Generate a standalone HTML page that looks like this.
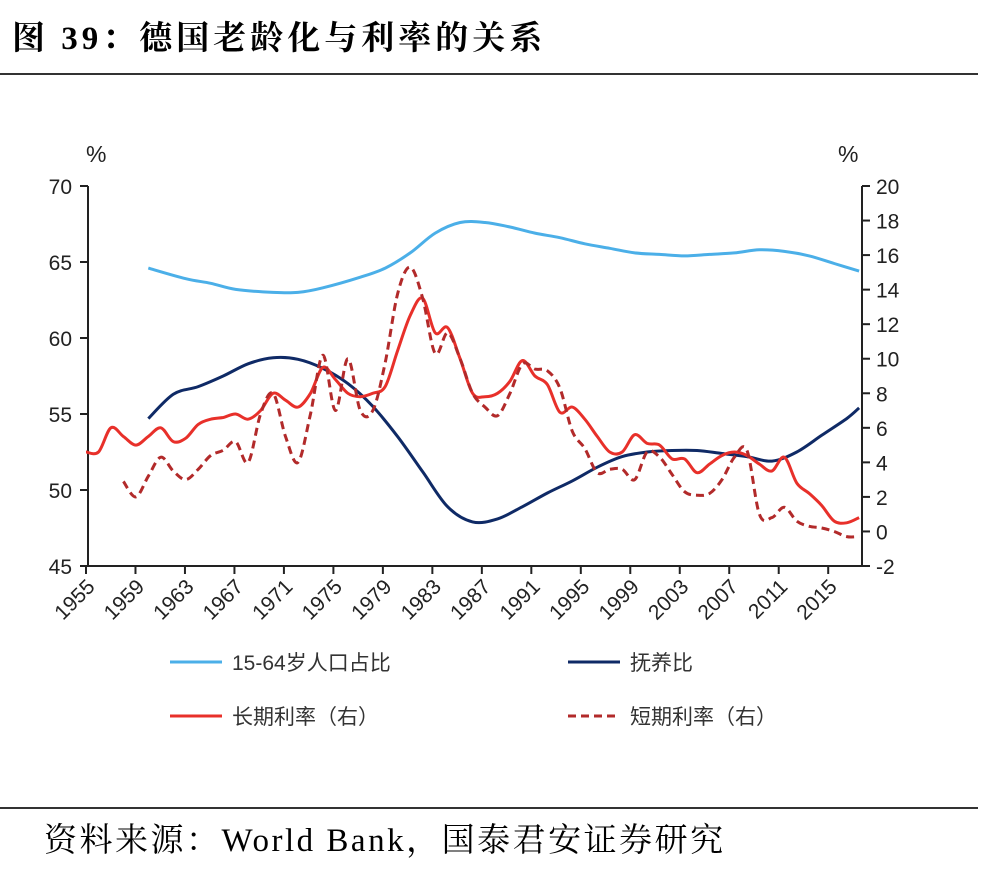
<!DOCTYPE html>
<html><head><meta charset="utf-8">
<style>
html,body{margin:0;padding:0;background:#fff;}
body{width:992px;height:872px;position:relative;overflow:hidden;}
.title{position:absolute;left:12px;top:12px;font:bold 33px "Liberation Serif","Noto Serif CJK SC",serif;color:#000;letter-spacing:4px;}
.rule{position:absolute;left:0;width:978px;height:2px;background:#333;}
.foot{position:absolute;left:44px;top:814px;font:33px "Liberation Serif","Noto Serif CJK SC",serif;color:#000;letter-spacing:2.5px;}
svg{position:absolute;left:0;top:0;}
</style></head><body>
<div class="title">图 39：德国老龄化与利率的关系</div>
<div class="rule" style="top:73px"></div>
<div class="rule" style="top:807px"></div>
<div class="foot">资料来源：World Bank，国泰君安证券研究</div>
<svg id="chart" width="992" height="872"></svg>
<script>
const years=[];for(let y=1955;y<=2017;y++)years.push(y);
const leftTicks=[70,65,60,55,50,45];
const rightTicks=[20,18,16,14,12,10,8,6,4,2,0,-2];
const xTickLabels=[1955,1959,1963,1967,1971,1975,1979,1983,1987,1991,1995,1999,2003,2007,2011,2015];
const workYears=[1960,1963,1965,1967,1970,1972,1974,1977,1979,1981,1983,1985,1987,1989,1991,1993,1995,1997,1999,2001,2003,2005,2007,2009,2011,2013,2015,2017];
const workShare=[64.6,63.9,63.6,63.2,63.0,63.0,63.3,64.0,64.6,65.6,66.9,67.6,67.6,67.3,66.9,66.6,66.2,65.9,65.6,65.5,65.4,65.5,65.6,65.8,65.7,65.4,64.9,64.4];
const depYears=[1960,1962,1964,1966,1968,1970,1972,1974,1976,1978,1980,1982,1984,1986,1988,1990,1992,1994,1996,1998,2000,2002,2004,2006,2008,2010,2012,2014,2016,2017];
const depRatio=[54.7,56.3,56.8,57.5,58.3,58.7,58.6,58.0,57.0,55.5,53.5,51.2,48.9,47.9,48.1,48.9,49.8,50.6,51.5,52.2,52.5,52.6,52.6,52.4,52.2,51.9,52.5,53.6,54.7,55.4];
const longYears=years;
const longRate=[4.6,4.6,6.0,5.5,5.0,5.5,6.0,5.2,5.4,6.2,6.5,6.6,6.8,6.5,7.0,8.0,7.6,7.2,8.0,9.5,8.8,8.0,7.8,8.0,8.4,10.5,12.5,13.5,11.5,11.8,10.0,8.0,7.8,8.0,8.7,9.9,9.0,8.5,6.9,7.2,6.5,5.5,4.6,4.6,5.6,5.1,5.0,4.2,4.2,3.4,3.9,4.4,4.6,4.4,3.9,3.5,4.3,2.8,2.2,1.5,0.6,0.5,0.8];
const shortYears=years.slice(3);
const shortRate=[2.9,2.0,3.2,4.3,3.5,3.0,3.6,4.4,4.7,5.2,4.0,6.8,8.0,5.5,4.0,6.8,10.2,7.0,10.0,7.0,7.0,9.8,13.8,15.3,13.5,10.3,11.5,10.0,8.0,7.2,6.7,8.0,9.7,9.4,9.3,8.3,5.8,4.8,3.4,3.6,3.6,3.0,4.6,4.3,3.3,2.3,2.1,2.2,3.0,4.3,4.7,1.0,0.8,1.4,0.6,0.3,0.2,0.0,-0.3,-0.3];

const NS='http://www.w3.org/2000/svg';
const svg=document.getElementById('chart');
const X0=88,X1=862,Y0=186,Y1=566;
const xs=y=>86+12.47*(y-1955);
const yl=v=>Y1-(v-45)/25*(Y1-Y0);
const yr=v=>Y1-(v+2)/22*(Y1-Y0);
function mk(t,a){const e=document.createElementNS(NS,t);for(const k in a)e.setAttribute(k,a[k]);svg.appendChild(e);return e;}
function smooth(pts){let d='M'+pts[0][0].toFixed(1)+','+pts[0][1].toFixed(1);
 for(let i=0;i<pts.length-1;i++){const p0=pts[i-1]||pts[i],p1=pts[i],p2=pts[i+1],p3=pts[i+2]||p2;
 const c1=[p1[0]+(p2[0]-p0[0])/6,p1[1]+(p2[1]-p0[1])/6],c2=[p2[0]-(p3[0]-p1[0])/6,p2[1]-(p3[1]-p1[1])/6];
 d+=' C'+c1.map(v=>v.toFixed(1))+' '+c2.map(v=>v.toFixed(1))+' '+p2.map(v=>v.toFixed(1));}return d;}
const font='"Liberation Sans","Noto Sans CJK SC",sans-serif';
let e;
e=mk('line',{x1:X0,y1:Y0,x2:X0,y2:Y1,stroke:'#222','stroke-width':2});

e=mk('line',{x1:X1,y1:Y0,x2:X1,y2:Y1,stroke:'#222','stroke-width':2});

e=mk('line',{x1:X0,y1:Y1,x2:X1,y2:Y1,stroke:'#222','stroke-width':2});

leftTicks.forEach(v=>{mk('line',{x1:X0-8,y1:yl(v),x2:X0,y2:yl(v),stroke:'#222','stroke-width':2});
 e=mk('text',{x:X0-16,y:yl(v)+8,'text-anchor':'end','font-size':21,'font-family':font,fill:'#222'});e.textContent=v;
 });
rightTicks.forEach(v=>{mk('line',{x1:X1,y1:yr(v),x2:X1+8,y2:yr(v),stroke:'#222','stroke-width':2});
 e=mk('text',{x:X1+14,y:yr(v)+8,'font-size':21,'font-family':font,fill:'#222'});e.textContent=v;
 });
xTickLabels.forEach(v=>{const x=86+12.37*(v-1955);mk('line',{x1:x,y1:Y1,x2:x,y2:Y1+8,stroke:'#222','stroke-width':2});
 e=mk('text',{x:x+10,y:Y1+22,'text-anchor':'end','font-size':21,'font-family':font,fill:'#222',transform:`rotate(-45 ${x+10} ${Y1+22})`});e.textContent=v;
 });
e=mk('text',{x:86,y:162,'font-size':23,'font-family':font,fill:'#222'});e.textContent='%';

e=mk('text',{x:838,y:162,'font-size':23,'font-family':font,fill:'#222'});e.textContent='%';

e=mk('path',{d:smooth(workYears.map((y,i)=>[xs(y),yl(workShare[i])])),fill:'none',stroke:'#4bafe8','stroke-width':3});

e=mk('path',{d:smooth(depYears.map((y,i)=>[xs(y),yl(depRatio[i])])),fill:'none',stroke:'#0f2a66','stroke-width':3});

e=mk('path',{d:smooth(longYears.map((y,i)=>[xs(y),yr(longRate[i])])),fill:'none',stroke:'#e8302a','stroke-width':3});

e=mk('path',{d:smooth(shortYears.map((y,i)=>[xs(y),yr(shortRate[i])])),fill:'none',stroke:'#b22a2a','stroke-width':3,'stroke-dasharray':'8,5'});

const leg=[['15-64岁人口占比','#4bafe8',170,662,''],['抚养比','#0f2a66',568,662,''],['长期利率（右）','#e8302a',170,716,''],['短期利率（右）','#b22a2a',568,716,'8,5']];
leg.forEach(l=>{const g=document.createElementNS(NS,'g');svg.appendChild(g);
 
 
 const ln=document.createElementNS(NS,'line');ln.setAttribute('x1',l[2]);ln.setAttribute('x2',l[2]+52);ln.setAttribute('y1',l[3]);ln.setAttribute('y2',l[3]);
 ln.setAttribute('stroke',l[1]);ln.setAttribute('stroke-width',3);if(l[4])ln.setAttribute('stroke-dasharray',l[4]);g.appendChild(ln);
 const t=document.createElementNS(NS,'text');t.setAttribute('x',l[2]+62);t.setAttribute('y',l[3]+8);t.setAttribute('font-size',21);t.setAttribute('font-family',font);t.setAttribute('fill','#333');t.textContent=l[0];g.appendChild(t);});
</script>
</body></html>
